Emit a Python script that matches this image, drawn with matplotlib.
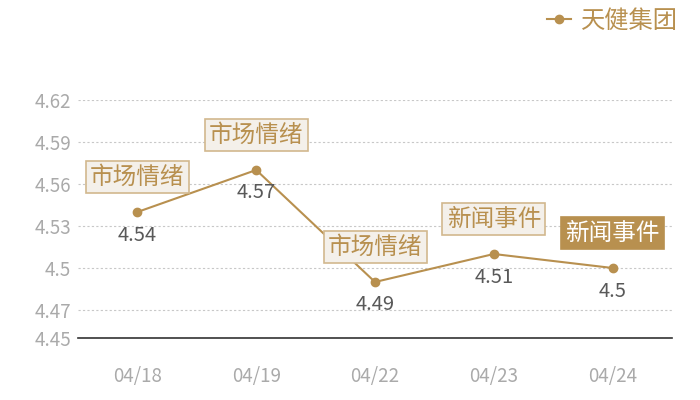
import matplotlib.pyplot as plt

plt.rcParams['font.family'] = ['Noto Sans CJK SC', 'DejaVu Sans']

# data
dates = ['04/18', '04/19', '04/22', '04/23', '04/24']
prices = [4.54, 4.57, 4.49, 4.51, 4.50]
price_text = ['4.54', '4.57', '4.49', '4.51', '4.5']
events = ['市场情绪', '市场情绪', '市场情绪', '新闻事件', '新闻事件']
yticks = [4.45, 4.47, 4.5, 4.53, 4.56, 4.59, 4.62]
ytick_text = ['4.45', '4.47', '4.5', '4.53', '4.56', '4.59', '4.62']

gold = '#b8904f'

fig = plt.figure(figsize=(7, 4), dpi=100)
ax = fig.add_axes([78 / 700, 62 / 400, 594 / 700, 238 / 400])

x = list(range(len(dates)))
ax.plot(x, prices, color=gold, lw=1.5, marker='o', ms=6, label='天健集团', zorder=3)

ax.set_xlim(-0.5, len(dates) - 0.5)
ax.set_ylim(4.45, 4.62)
ax.set_yticks(yticks)
ax.set_yticklabels(ytick_text)
ax.set_xticks(x)
ax.set_xticklabels(dates)
ax.tick_params(axis='both', length=0, colors='#aaaaaa', labelsize=13.5)
ax.tick_params(axis='x', pad=20)
ax.tick_params(axis='y', pad=5)

ax.grid(axis='y', linestyle=(0, (2, 2)), color='#c8c8c8', lw=0.8)
for s in ['top', 'right', 'left']:
    ax.spines[s].set_visible(False)
ax.spines['bottom'].set_color('#333333')
ax.spines['bottom'].set_linewidth(1.2)

# value labels under the points
for xi, p, t in zip(x, prices, price_text):
    ax.annotate(t, (xi, p), xytext=(0, -23), textcoords='offset pixels',
                ha='center', va='center', fontsize=14.5, color='#595959')

# event boxes above the points
for i, (xi, p, ev) in enumerate(zip(x, prices, events)):
    last = i == len(x) - 1
    ax.annotate(ev, (xi, p), xytext=(0, 35), textcoords='offset pixels',
                ha='center', va='center', fontsize=17,
                color='white' if last else gold,
                bbox=dict(boxstyle='square,pad=0.18',
                          fc=gold if last else '#f4f0ea',
                          ec=gold if last else '#d2b88e', lw=1.2),
                zorder=4, annotation_clip=False)

leg = fig.legend(loc='upper right', bbox_to_anchor=(1.0, 1.035), frameon=False,
                 fontsize=17.5, handlelength=1.0, handletextpad=0.4)
for t in leg.get_texts():
    t.set_color(gold)

fig.savefig('out.png', dpi=100)
